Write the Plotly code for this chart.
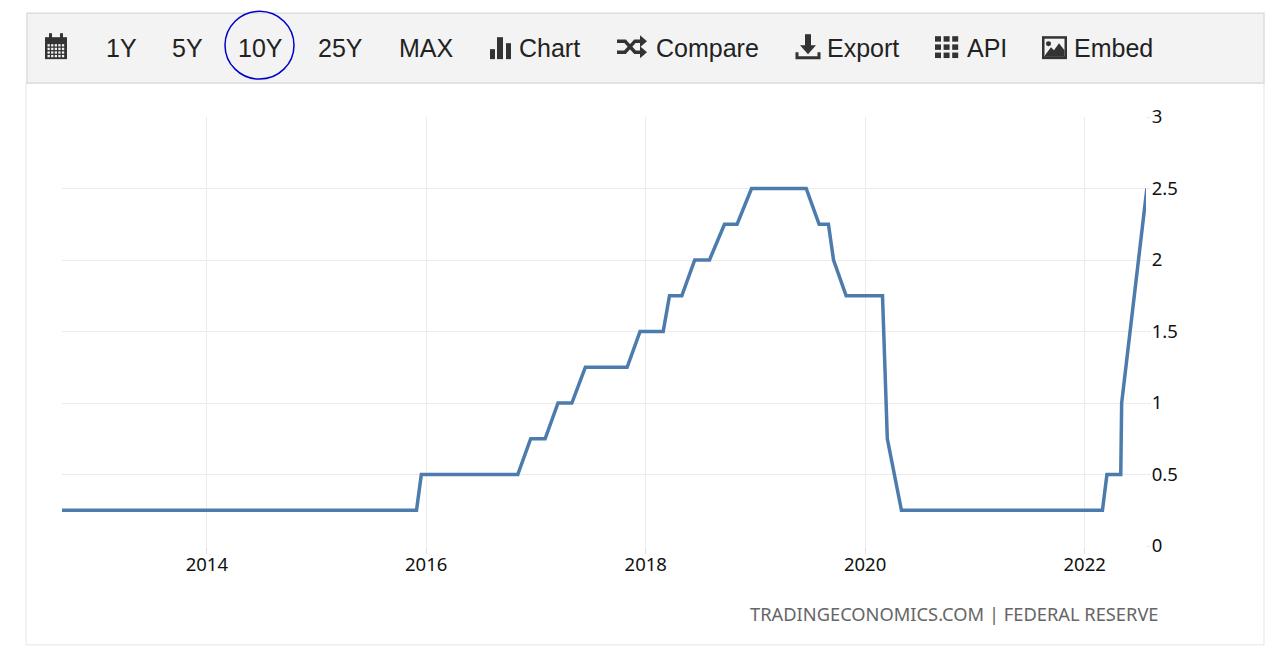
import plotly.graph_objects as go

W, H = 1280, 659
L, R, T, B = 62, 1146, 116.5, 546.5

dates = ["2012-09-06", "2015-11-30", "2015-12-16", "2016-11-01", "2016-12-14", "2017-01-31",
         "2017-03-15", "2017-04-30", "2017-06-14", "2017-10-31", "2017-12-13", "2018-02-28",
         "2018-03-21", "2018-05-01", "2018-06-13", "2018-08-01", "2018-09-20", "2018-11-01",
         "2018-12-19", "2019-06-19", "2019-08-01", "2019-09-01", "2019-09-18", "2019-10-30",
         "2020-02-28", "2020-03-15", "2020-05-01", "2022-03-01", "2022-03-16", "2022-05-01",
         "2022-05-04", "2022-06-15", "2022-07-27"]
rates = [0.25, 0.25, 0.5, 0.5, 0.75, 0.75,
         1.0, 1.0, 1.25, 1.25, 1.5, 1.5,
         1.75, 1.75, 2.0, 2.0, 2.25, 2.25,
         2.5, 2.5, 2.25, 2.25, 2.0, 1.75,
         1.75, 0.75, 0.25, 0.25, 0.5, 0.5,
         1.0, 1.75, 2.5]
x_ticks = ["2014-01-01", "2016-01-01", "2018-01-01", "2020-01-01", "2022-01-01"]
x_labels = ["2014", "2016", "2018", "2020", "2022"]
y_ticks = [0, 0.5, 1, 1.5, 2, 2.5, 3]
y_labels = ["0", "0.5", "1", "1.5", "2", "2.5", "3"]
toolbar_items = [("1Y", 106), ("5Y", 172), ("10Y", 238), ("25Y", 318), ("MAX", 399),
                 ("Chart", 519), ("Compare", 656), ("Export", 827), ("API", 967), ("Embed", 1074)]
footer = "TRADINGECONOMICS.COM | FEDERAL RESERVE"


def px(x):
    return (x - L) / (R - L)


def py(y):
    return (B + 0.5 - y) / (B - T)


def rect(x0, y0, x1, y1, fill="#333333", line=None, width=1):
    return dict(type="rect", xref="paper", yref="paper", x0=px(x0), x1=px(x1), y0=py(y0), y1=py(y1),
                fillcolor=fill, line=dict(color=line, width=width if line else 0), layer="below")


def path(points, fill=None, line=None, width=1, close=False):
    d = "M " + " L ".join(f"{px(a):.5f},{py(b):.5f}" for a, b in points) + (" Z" if close else "")
    return dict(type="path", xref="paper", yref="paper", path=d, fillcolor=fill or "rgba(0,0,0,0)",
                line=dict(color=line or "rgba(0,0,0,0)", width=width), layer="above")


ICON = "#333333"
shapes = [
    rect(26, 83, 1264, 646, "#ffffff", "#eeeeee", 1.5),
    rect(27, 13, 1264, 83, "#f3f3f3", "#dddddd", 1.5),
    dict(type="circle", xref="paper", yref="paper", x0=px(225), x1=px(294), y0=py(79), y1=py(11),
         fillcolor="rgba(0,0,0,0)", line=dict(color="#0000cc", width=1.5), layer="above"),
]

# calendar
shapes.append(rect(45, 37, 67, 59, ICON))
shapes += [rect(49, 33, 52, 38, ICON), rect(60, 33, 63, 38, ICON)]
for i in range(5):
    for j in range(4):
        shapes.append(rect(47.5 + i * 3.6, 44 + j * 3.6, 49.8 + i * 3.6, 46.3 + j * 3.6, "#f3f3f3"))
# bars
shapes += [rect(490, 49, 495, 59, ICON), rect(497, 37, 503, 59, ICON), rect(506, 43, 511, 59, ICON)]
# shuffle
shapes.append(path([(617, 41), (625, 41), (635, 52), (641, 52)], line=ICON, width=3.5))
shapes.append(path([(617, 52), (625, 52), (635, 41), (641, 41)], line=ICON, width=3.5))
shapes.append(path([(640, 35), (647, 41), (640, 47)], fill=ICON, close=True))
shapes.append(path([(640, 46), (647, 52), (640, 58)], fill=ICON, close=True))
# export
shapes.append(rect(805, 34, 811, 46, ICON))
shapes.append(path([(800, 45), (816, 45), (808, 54)], fill=ICON, close=True))
shapes.append(path([(797, 52), (797, 57.5), (819, 57.5), (819, 52)], line=ICON, width=3))
# api grid
for i in range(3):
    for j in range(3):
        shapes.append(rect(935 + i * 8.6, 36 + j * 8.2, 941 + i * 8.6, 41.5 + j * 8.2, ICON))
# embed
shapes.append(rect(1042, 36, 1067, 59, ICON))
shapes.append(rect(1044.5, 38.5, 1064.5, 56, "#f3f3f3"))
shapes.append(path([(1045, 55), (1051, 47), (1054, 50), (1059, 43), (1064.5, 50), (1064.5, 56), (1045, 56)],
                   fill=ICON, close=True))
shapes.append(dict(type="circle", xref="paper", yref="paper", x0=px(1046), x1=px(1051), y0=py(46), y1=py(41),
                   fillcolor=ICON, line=dict(width=0), layer="above"))

annotations = [dict(text=t, x=px(x), y=py(48), xref="paper", yref="paper", xanchor="left", yanchor="middle",
                    showarrow=False, font=dict(family="Liberation Sans", size=25, color="#222222"),
                    borderpad=0, borderwidth=0)
               for t, x in toolbar_items]
annotations.append(dict(text=footer, x=px(1160.5), y=py(615), xref="paper", yref="paper", xanchor="right",
                        yanchor="middle", showarrow=False,
                        font=dict(family="Noto Sans", size=18.3, color="#666666")))

fig = go.Figure(go.Scatter(x=dates, y=rates, mode="lines", line=dict(color="#4c7bad", width=3.5),
                           hoverinfo="skip", cliponaxis=False))
fig.update_layout(
    width=W, height=H, margin=dict(l=L, r=W - R, t=T, b=H - B, autoexpand=False),
    paper_bgcolor="#ffffff", plot_bgcolor="#ffffff", showlegend=False,
    shapes=shapes, annotations=annotations,
    xaxis=dict(range=["2012-09-06", "2022-07-24"], tickvals=x_ticks, ticktext=x_labels,
               showgrid=True, gridcolor="#ebebeb", gridwidth=1, zeroline=False, showline=False,
               ticks="outside", ticklen=7, tickcolor="#e0e0e0", tickwidth=1, ticklabelstandoff=-5,
               tickfont=dict(family="Noto Sans", size=18.5, color="#111111")),
    yaxis=dict(range=[0, 3], tickvals=y_ticks, ticktext=y_labels, side="right",
               showgrid=True, gridcolor="#ebebeb", gridwidth=1, zeroline=False, showline=False,
               ticks="outside", ticklen=3, tickcolor="#e6e6e6", tickwidth=1, ticklabelstandoff=-2,
               tickfont=dict(family="Noto Sans", size=18.5, color="#111111")),
)
fig.write_html("out.html", config=dict(displayModeBar=False), post_script="document.body.style.margin='0';")
